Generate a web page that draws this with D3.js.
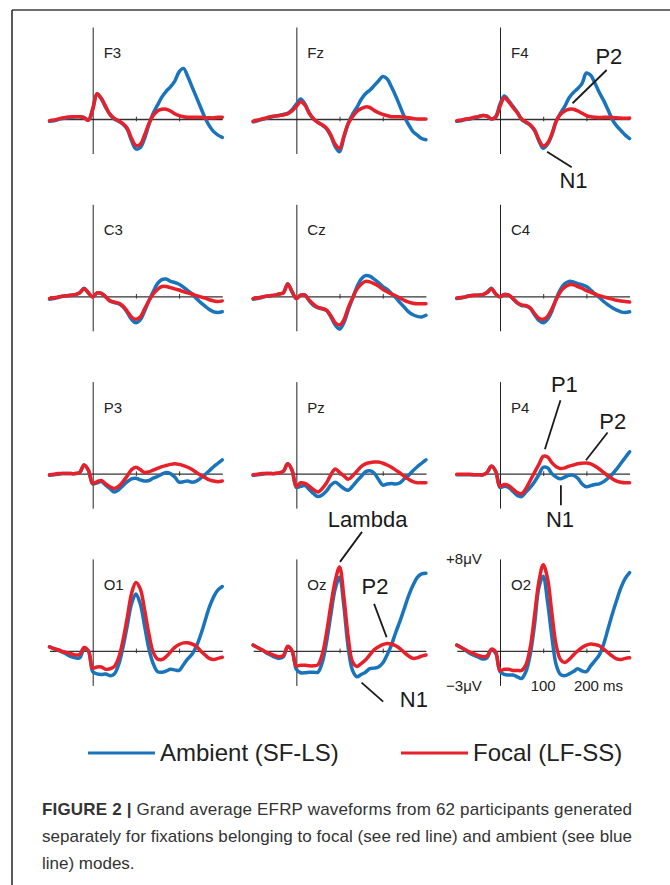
<!DOCTYPE html>
<html>
<head>
<meta charset="utf-8">
<script src="https://cdn.jsdelivr.net/npm/d3@7"></script>
<style>
  html, body { margin: 0; padding: 0; background: #fff; }
  svg { display: block; font-family: "Liberation Sans", Arial, Helvetica, sans-serif; }
</style>
</head>
<body>
<svg id="chart" width="670" height="885"></svg>
<script>
// sample times (ms) shared by every waveform
const times = [-100, -90, -80, -70, -60, -50, -40, -30, -20, -10,
  0, 10, 20, 30, 40, 50, 60, 70, 80, 90,
  100, 110, 120, 130, 140, 150, 160, 170, 180, 190,
  200, 210, 220, 230, 240, 250, 260, 270, 280, 290, 300];
const tickTimes = [100, 200];
const channels = ["F3", "Fz", "F4", "C3", "Cz", "C4", "P3", "Pz", "P4", "O1", "Oz", "O2"];
const seriesNames = ["Ambient (SF-LS)", "Focal (LF-SS)"];

// amplitudes in microvolts, ambient = blue, focal = red
const ambientF3 = [-0.2, -0.15, -0.05, 0.05, 0.1, 0.15, 0.2, 0.2, 0.15, -0.1,
  0.9, 2.15, 1.75, 1.0, 0.4, 0.0, -0.2, -0.45, -0.9, -1.9,
  -2.6, -2.5, -1.7, -0.5, 0.5, 1.2, 1.9, 2.4, 2.8, 3.3,
  4.1, 4.4, 3.7, 2.8, 1.9, 1.0, 0.1, -0.6, -1.1, -1.4, -1.6];
const focalF3 = [-0.15, -0.1, 0.0, 0.1, 0.15, 0.2, 0.2, 0.2, 0.1, -0.1,
  0.8, 2.2, 1.8, 1.1, 0.4, 0.05, -0.15, -0.4, -0.8, -1.7,
  -2.3, -2.2, -1.4, -0.4, 0.3, 0.7, 0.85, 0.85, 0.7, 0.45,
  0.3, 0.2, 0.15, 0.15, 0.15, 0.15, 0.1, 0.1, 0.1, 0.15, 0.15];
const ambientFz = [-0.25, -0.15, -0.05, 0.05, 0.15, 0.25, 0.3, 0.4, 0.5, 0.8,
  1.3, 1.75, 1.3, 0.5, 0.0, -0.3, -0.55, -0.85, -1.5, -2.4,
  -2.85, -1.6, -0.4, 0.4, 1.0, 1.7, 2.2, 2.5, 2.9, 3.3,
  3.7, 3.5, 2.8, 2.0, 1.1, 0.2, -0.5, -1.1, -1.4, -1.7, -1.8];
const focalFz = [-0.2, -0.1, 0.0, 0.1, 0.2, 0.25, 0.3, 0.35, 0.45, 0.7,
  1.1, 1.5, 1.2, 0.5, 0.0, -0.3, -0.5, -0.8, -1.4, -2.2,
  -2.55, -1.5, -0.4, 0.2, 0.65, 0.9, 1.05, 1.0, 0.75, 0.55,
  0.4, 0.3, 0.2, 0.2, 0.2, 0.15, 0.1, 0.05, 0.0, 0.0, 0.0];
const ambientF4 = [-0.2, -0.15, -0.05, 0.0, 0.1, 0.2, 0.3, 0.25, 0.0, 0.2,
  1.3, 2.0, 1.6, 1.1, 0.6, -0.05, -0.3, -0.55, -1.0, -1.9,
  -2.55, -2.2, -1.4, -0.2, 0.5, 1.1, 1.85, 2.3, 2.65, 3.1,
  4.0, 3.8, 3.1, 2.3, 1.6, 0.8, -0.05, -0.6, -1.0, -1.4, -1.7];
const focalF4 = [-0.15, -0.1, 0.0, 0.05, 0.15, 0.2, 0.3, 0.25, 0.0, 0.15,
  1.1, 1.85, 1.5, 1.0, 0.55, 0.0, -0.25, -0.5, -0.95, -1.8,
  -2.35, -2.1, -1.3, -0.2, 0.4, 0.7, 0.85, 0.85, 0.7, 0.5,
  0.3, 0.2, 0.15, 0.12, 0.15, 0.15, 0.12, 0.1, 0.08, 0.06, 0.08];
const ambientC3 = [-0.25, -0.2, -0.1, 0.0, 0.05, 0.1, 0.15, 0.3, 0.7, 0.3,
  -0.05, 0.3, 0.25, -0.05, -0.4, -0.55, -0.65, -0.9, -1.4, -2.0,
  -2.3, -2.05, -1.3, -0.4, 0.4, 1.1, 1.45, 1.5, 1.3, 1.2,
  1.05, 0.8, 0.5, 0.2, -0.2, -0.55, -0.85, -1.15, -1.35, -1.4, -1.35];
const focalC3 = [-0.2, -0.15, -0.05, 0.0, 0.05, 0.1, 0.15, 0.3, 0.65, 0.3,
  -0.05, 0.3, 0.25, -0.05, -0.4, -0.5, -0.6, -0.85, -1.3, -1.8,
  -2.0, -1.8, -1.1, -0.4, 0.2, 0.6, 0.85, 0.85, 0.75, 0.65,
  0.55, 0.4, 0.3, 0.2, 0.05, -0.05, -0.15, -0.3, -0.4, -0.45, -0.4];
const ambientCz = [-0.25, -0.2, -0.1, 0.0, 0.05, 0.1, 0.2, 0.3, 1.1, 0.4,
  -0.2, 0.1, 0.1, -0.4, -0.8, -1.0, -1.1, -1.25, -1.8, -2.5,
  -2.85, -2.3, -1.2, -0.2, 0.8, 1.5, 1.8, 1.75, 1.5, 1.2,
  0.85, 0.6, 0.25, -0.1, -0.55, -0.95, -1.35, -1.6, -1.75, -1.8, -1.65];
const focalCz = [-0.2, -0.15, -0.05, 0.0, 0.05, 0.1, 0.2, 0.3, 1.05, 0.4,
  -0.2, 0.1, 0.1, -0.35, -0.7, -0.95, -1.05, -1.2, -1.7, -2.3,
  -2.5, -2.05, -1.0, -0.15, 0.6, 1.05, 1.3, 1.25, 1.1, 0.9,
  0.6, 0.4, 0.2, 0.05, -0.15, -0.35, -0.5, -0.6, -0.65, -0.65, -0.65];
const ambientC4 = [-0.2, -0.15, -0.05, 0.05, 0.1, 0.1, 0.15, 0.35, 0.7, 0.2,
  -0.05, 0.15, 0.1, -0.2, -0.6, -0.8, -0.85, -1.05, -1.6, -2.1,
  -2.3, -2.0, -1.3, -0.2, 0.6, 1.1, 1.3, 1.25, 1.1, 1.0,
  0.85, 0.55, 0.2, -0.1, -0.45, -0.75, -1.0, -1.2, -1.35, -1.4, -1.35];
const focalC4 = [-0.15, -0.1, -0.05, 0.05, 0.1, 0.1, 0.15, 0.3, 0.65, 0.2,
  -0.05, 0.15, 0.1, -0.2, -0.55, -0.75, -0.8, -1.0, -1.5, -1.9,
  -2.0, -1.75, -1.1, -0.3, 0.4, 0.8, 1.0, 1.0, 0.85, 0.7,
  0.5, 0.35, 0.2, 0.05, -0.05, -0.15, -0.25, -0.35, -0.4, -0.45, -0.5];
const ambientP3 = [-0.15, -0.1, -0.05, 0.0, 0.0, 0.0, 0.0, 0.1, 0.75, 0.3,
  -0.9, -0.8, -0.7, -1.0, -1.3, -1.6, -1.4, -1.05, -0.7, -0.45,
  -0.4, -0.55, -0.65, -0.6, -0.4, -0.25, -0.05, 0.1, 0.0, -0.3,
  -0.75, -0.7, -0.65, -0.75, -0.65, -0.4, -0.1, 0.25, 0.6, 0.9, 1.2];
const focalP3 = [-0.1, -0.05, 0.0, 0.0, 0.0, 0.0, 0.0, 0.1, 0.75, 0.3,
  -0.85, -0.7, -0.6, -0.9, -1.15, -1.3, -1.1, -0.7, -0.2, 0.35,
  0.55, 0.35, 0.1, 0.15, 0.3, 0.45, 0.6, 0.7, 0.8, 0.85,
  0.8, 0.7, 0.55, 0.35, 0.1, -0.15, -0.35, -0.55, -0.65, -0.7, -0.65];
const ambientPz = [-0.15, -0.1, -0.05, 0.0, 0.0, 0.0, 0.05, 0.2, 0.85, 0.3,
  -1.2, -1.1, -1.05, -1.4, -1.75, -2.0, -1.85, -1.5, -1.0, -0.75,
  -1.0, -1.3, -1.45, -1.1, -0.65, -0.25, 0.15, 0.25, 0.05, -0.5,
  -1.0, -0.9, -0.85, -0.9, -0.8, -0.45, -0.15, 0.25, 0.6, 0.9, 1.2];
const focalPz = [-0.1, -0.05, 0.0, 0.0, 0.0, 0.0, 0.05, 0.2, 0.85, 0.3,
  -1.1, -0.8, -0.85, -1.1, -1.4, -1.6, -1.3, -0.8, -0.1, 0.4,
  0.1, -0.2, -0.5, -0.2, 0.2, 0.6, 0.85, 0.95, 1.0, 1.0,
  0.9, 0.75, 0.55, 0.3, 0.05, -0.25, -0.5, -0.7, -0.8, -0.8, -0.8];
const ambientP4 = [-0.1, -0.1, -0.1, -0.1, -0.1, -0.1, -0.1, 0.1, 0.65, 0.2,
  -1.2, -1.1, -1.2, -1.55, -1.9, -2.0, -1.6, -1.2, -0.7, -0.1,
  0.55, 0.5, 0.0, -0.3, -0.45, -0.3, -0.15, -0.15, -0.4, -0.9,
  -1.15, -1.05, -0.95, -0.9, -0.7, -0.4, -0.05, 0.4, 0.9, 1.4, 1.9];
const focalP4 = [-0.05, -0.05, -0.05, -0.05, -0.1, -0.1, -0.1, 0.1, 0.65, 0.2,
  -1.1, -0.95, -1.05, -1.35, -1.65, -1.75, -1.3, -0.6, 0.1, 0.8,
  1.5, 1.45, 0.95, 0.6, 0.45, 0.5, 0.65, 0.75, 0.85, 0.9,
  0.93, 0.85, 0.65, 0.4, 0.1, -0.2, -0.45, -0.65, -0.75, -0.8, -0.8];
const ambientO1 = [0.35, 0.2, 0.05, -0.1, -0.3, -0.5, -0.6, -0.6, 0.15, 0.0,
  -1.8, -2.0, -2.05, -2.0, -2.15, -2.0, -1.2, 0.3, 2.2, 4.1,
  4.95, 4.1, 2.2, 0.2, -1.1, -1.8, -1.85, -1.75, -1.6, -1.65,
  -1.7, -1.2, -0.7, -0.3, 0.4, 1.4, 2.6, 3.8, 4.7, 5.3, 5.6];
const focalO1 = [0.35, 0.2, 0.1, -0.05, -0.15, -0.25, -0.35, -0.3, 0.3, 0.0,
  -1.5, -1.4, -1.4, -1.6, -1.55, -1.35, -0.6, 0.9, 2.9, 5.0,
  5.95, 5.4, 3.6, 1.5, -0.1, -0.7, -0.75, -0.5, -0.1, 0.3,
  0.55, 0.7, 0.7, 0.6, 0.4, 0.0, -0.35, -0.65, -0.75, -0.65, -0.55];
const ambientOz = [0.5, 0.3, 0.1, -0.15, -0.35, -0.55, -0.65, -0.5, 0.35, 0.0,
  -1.6, -1.9, -1.9, -1.85, -1.85, -1.85, -1.0, 0.8, 3.2, 5.4,
  6.4, 3.9, 0.3, -1.7, -2.25, -2.05, -1.85, -1.55, -1.5, -1.4,
  -1.05, -0.35, 0.5, 1.6, 2.6, 3.7, 4.8, 5.7, 6.4, 6.7, 6.75];
const focalOz = [0.5, 0.3, 0.1, -0.1, -0.25, -0.4, -0.5, -0.4, 0.4, 0.0,
  -1.3, -1.25, -1.25, -1.3, -1.3, -1.2, -0.3, 1.6, 4.0, 6.1,
  7.3, 4.7, 1.2, -0.95, -1.35, -1.1, -0.8, -0.35, 0.1, 0.35,
  0.55, 0.65, 0.6, 0.45, 0.2, -0.15, -0.45, -0.65, -0.6, -0.45, -0.35];
const ambientO2 = [0.5, 0.3, 0.05, -0.2, -0.4, -0.55, -0.7, -0.6, 0.1, -0.2,
  -1.8, -2.05, -2.1, -2.1, -2.25, -2.4, -1.8, -0.3, 2.3, 5.5,
  6.5, 4.3, 1.25, -1.2, -2.05, -2.15, -2.0, -1.8, -1.55, -1.75,
  -1.8, -1.3, -0.85, -0.35, 0.6, 1.9, 3.2, 4.4, 5.5, 6.3, 6.8];
const focalO2 = [0.5, 0.3, 0.1, -0.1, -0.25, -0.4, -0.5, -0.45, 0.15, -0.1,
  -1.7, -1.6, -1.6, -1.7, -1.7, -1.7, -1.2, 0.3, 3.1, 6.0,
  7.5, 6.3, 3.3, 0.5, -0.75, -1.0, -0.75, -0.35, 0.0, 0.3,
  0.5, 0.6, 0.55, 0.45, 0.15, -0.15, -0.45, -0.7, -0.75, -0.65, -0.6];

const waves = {
  F3: [ambientF3, focalF3], Fz: [ambientFz, focalFz], F4: [ambientF4, focalF4],
  C3: [ambientC3, focalC3], Cz: [ambientCz, focalCz], C4: [ambientC4, focalC4],
  P3: [ambientP3, focalP3], Pz: [ambientPz, focalPz], P4: [ambientP4, focalP4],
  O1: [ambientO1, focalO1], Oz: [ambientOz, focalOz], O2: [ambientO2, focalO2]
};

// component labels, placed in each panel's own [ms, µV] space
const callouts = [
  {ch: "F4", text: "P2", at: [252, 4.76], from: [247, 4.26], to: [168, 1.37]},
  {ch: "F4", text: "N1", at: [170, -6.03], from: [109, -2.84], to: [166, -4.2]},
  {ch: "P4", text: "P1", at: [149, 7.1], from: [140, 6.37], to: [104, 2.11]},
  {ch: "P4", text: "P2", at: [261, 3.91], from: [249, 3.57], to: [199, 1.16]},
  {ch: "P4", text: "N1", at: [139, -4.64], from: [141, -1.02], to: [141, -2.76]},
  {ch: "Oz", text: "Lambda", at: [165, 10.8], from: [152, 10.35], to: [101, 7.74]},
  {ch: "Oz", text: "P2", at: [182, 4.96], from: [180, 4.09], to: [209, 1.19]},
  {ch: "Oz", text: "N1", at: [272, -4.84], from: [151, -2.76], to: [201, -4.41]}
];

const colors = ["#1a74bb", "#e8202a"];
const W = 670, H = 885;
const svg = d3.select("#chart");

// frame
svg.append("line").attr("x1", 12).attr("y1", 10).attr("x2", W).attr("y2", 10)
  .attr("stroke", "#6e6e6e").attr("stroke-width", 2);
svg.append("line").attr("x1", 12).attr("y1", 10).attr("x2", 12).attr("y2", H)
  .attr("stroke", "#222").attr("stroke-width", 1.5);

const colStep = 203.65, rowStep = 177.3;
const scales = {};

channels.forEach((ch, i) => {
  const col = i % 3, row = Math.floor(i / 3);
  const x0 = 92.7 + col * colStep, y0 = 119 + row * rowStep;
  const x = d3.scaleLinear().domain([-100, 300]).range([x0 - 43.2, x0 + 129.6]);
  const y = d3.scaleLinear().domain([-3, 8]).range([y0 + 34.5, y0 - 92]);
  scales[ch] = {x, y};
  const g = svg.append("g");

  const xAxis = g.append("g").attr("transform", "translate(0," + y(0) + ")")
    .call(d3.axisBottom(x).tickValues(tickTimes).tickSize(4).tickSizeOuter(0).tickFormat(""));
  xAxis.select(".domain").attr("stroke", "#333").attr("stroke-width", 1.3);
  xAxis.selectAll(".tick line").attr("y1", -2.3).attr("y2", 2.3).attr("stroke", "#333");

  g.append("g").attr("transform", "translate(" + x(0) + ",0)")
    .call(d3.axisLeft(y).tickValues([]).tickSizeOuter(0))
    .select(".domain").attr("stroke", "#222").attr("stroke-width", 1);

  g.append("text")
    .attr("x", x(0) + 11).attr("y", y0 - 61)
    .style("font-size", "15px").style("fill", "#222")
    .text(ch);

  const line = d3.line()
    .x((d, k) => x(times[k]))
    .y(d => y(d))
    .curve(d3.curveCatmullRom.alpha(0.5));

  waves[ch].forEach((vals, s) => {
    g.append("path")
      .attr("d", line(vals))
      .attr("fill", "none")
      .attr("stroke", colors[s])
      .attr("stroke-width", 3.5)
      .attr("stroke-linejoin", "round")
      .attr("stroke-linecap", "round");
  });
});

// callouts
callouts.forEach(c => {
  const {x, y} = scales[c.ch];
  svg.append("line")
    .attr("x1", x(c.from[0])).attr("y1", y(c.from[1]))
    .attr("x2", x(c.to[0])).attr("y2", y(c.to[1]))
    .attr("stroke", "#1a1a1a").attr("stroke-width", 1.8);
  svg.append("text")
    .attr("x", x(c.at[0])).attr("y", y(c.at[1]))
    .attr("text-anchor", "middle")
    .style("font-size", "22px").style("fill", "#1a1a1a")
    .text(c.text);
});

// scale labels on the O2 panel
const o2 = scales["O2"];
svg.append("text").attr("x", o2.x(-42)).attr("y", o2.y(8) + 5)
  .attr("text-anchor", "end").style("font-size", "15px").style("fill", "#222")
  .text("+8\u03bcV");
svg.append("text").attr("x", o2.x(-42)).attr("y", o2.y(-3) + 6)
  .attr("text-anchor", "end").style("font-size", "15px").style("fill", "#222")
  .text("\u22123\u03bcV");
svg.append("text").attr("x", o2.x(100)).attr("y", o2.y(-3) + 6)
  .attr("text-anchor", "middle").style("font-size", "15px").style("fill", "#222")
  .text("100");
svg.append("text").attr("x", o2.x(200) - 12.5).attr("y", o2.y(-3) + 6)
  .style("font-size", "15px").style("fill", "#222")
  .text("200 ms");

// legend
const legendX = [88, 401];
seriesNames.forEach((name, s) => {
  svg.append("line")
    .attr("x1", legendX[s]).attr("x2", legendX[s] + 67)
    .attr("y1", 753).attr("y2", 753)
    .attr("stroke", colors[s]).attr("stroke-width", 3);
  svg.append("text")
    .attr("x", legendX[s] + 72).attr("y", 761)
    .style("font-size", "24px").style("fill", "#222")
    .text(name);
});

// caption
const cap = svg.append("g").style("font-size", "17px").style("fill", "#333");
const l1 = cap.append("text").attr("x", 42).attr("y", 815)
  .attr("textLength", 590).attr("lengthAdjust", "spacing");
l1.append("tspan").style("font-weight", "bold").text("FIGURE 2 |");
l1.append("tspan").text(" Grand average EFRP waveforms from 62 participants generated");
cap.append("text").attr("x", 42).attr("y", 842)
  .attr("textLength", 590).attr("lengthAdjust", "spacing")
  .text("separately for fixations belonging to focal (see red line) and ambient (see blue");
cap.append("text").attr("x", 42).attr("y", 869)
  .text("line) modes.");
</script>
</body>
</html>
